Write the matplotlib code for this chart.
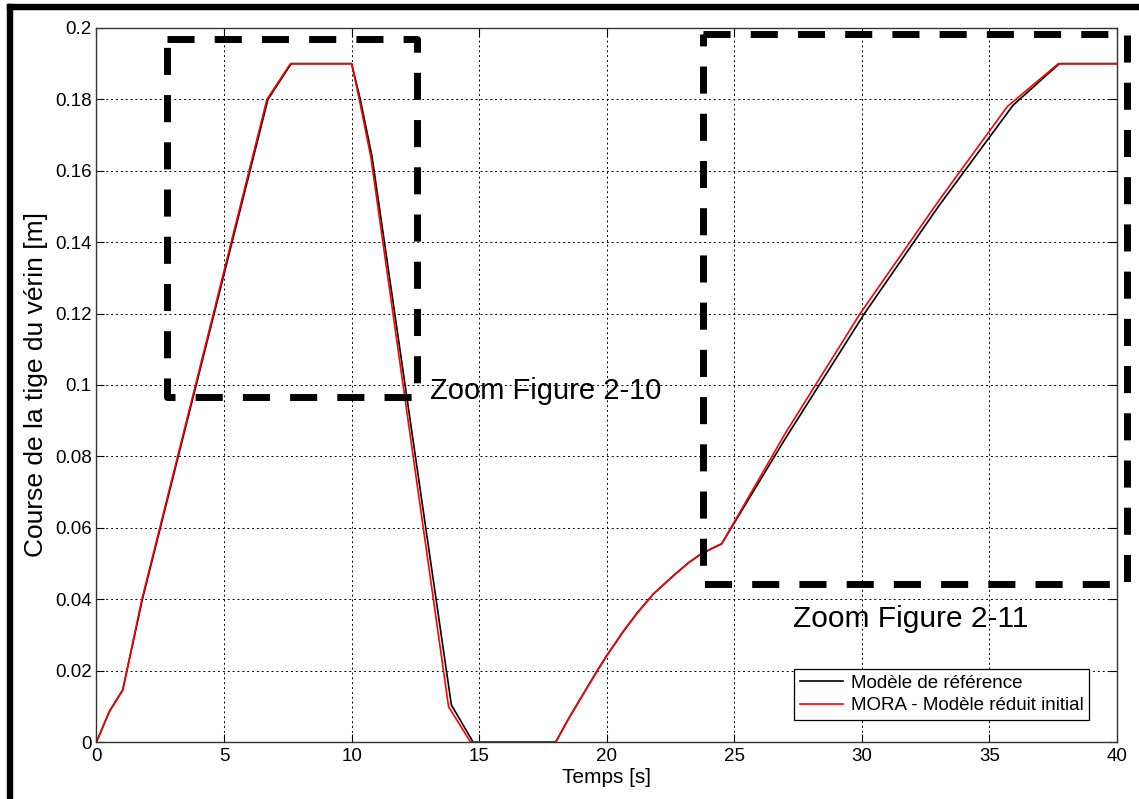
import matplotlib
matplotlib.use("Agg")
import matplotlib.pyplot as plt
from matplotlib.patches import Rectangle

plt.rcParams['font.family'] = ['Liberation Sans', 'DejaVu Sans']

# ---- Data ----
# reference model (black)
t_ref = [0, 0.5, 1.03, 1.8, 6.72, 7.63, 10.0, 10.34, 10.8, 13.91, 14.76, 18.0,
         18.5, 19.0, 19.63, 20.0, 20.65, 21.2, 21.83, 22.6, 23.2, 23.7, 24.2, 24.5,
         27.0, 30.1, 33.0, 35.93, 37.74, 40.0]
y_ref = [0, 0.0085, 0.0146, 0.04, 0.18, 0.19, 0.19, 0.18, 0.164, 0.0104, 0, 0,
         0.0065, 0.0125, 0.02, 0.0242, 0.031, 0.0362, 0.0415, 0.0465, 0.0502, 0.0527, 0.0545, 0.0555,
         0.085, 0.12, 0.150, 0.1784, 0.19, 0.19]

# MORA - reduced model (red)
t_mora = [0, 0.5, 1.03, 1.78, 6.68, 7.6, 10.0, 10.3, 10.75, 13.8, 14.66, 18.0,
          18.5, 19.0, 19.63, 20.0, 20.65, 21.2, 21.83, 22.6, 23.2, 23.7, 24.2, 24.5,
          27.0, 29.93, 33.0, 35.7, 37.7, 40.0]
y_mora = [0, 0.0085, 0.0146, 0.04, 0.18, 0.19, 0.19, 0.18, 0.164, 0.0099, 0, 0,
          0.0065, 0.0125, 0.02, 0.0242, 0.031, 0.0362, 0.0415, 0.0465, 0.0502, 0.0527, 0.0545, 0.0555,
          0.0865, 0.12, 0.1515, 0.178, 0.19, 0.19]

# zoom boxes: (t_left, t_right, y_bottom, y_top)
box1 = (2.75, 12.55, 0.0967, 0.1969)
box2 = (23.79, 40.38, 0.0444, 0.1982)

xticks = [0, 5, 10, 15, 20, 25, 30, 35, 40]
yticks = [0, 0.02, 0.04, 0.06, 0.08, 0.1, 0.12, 0.14, 0.16, 0.18, 0.2]
ytick_labels = ['0', '0.02', '0.04', '0.06', '0.08', '0.1', '0.12', '0.14', '0.16', '0.18', '0.2']

# ---- Figure ----
fig = plt.figure(figsize=(11.39, 7.99), dpi=100)
ax = fig.add_axes([0.0847, 0.0713, 0.8960, 0.8937])

ax.plot(t_ref, y_ref, color='black', lw=1.2, label='Modèle de référence')
ax.plot(t_mora, y_mora, color='red', lw=1.2, label='MORA - Modèle réduit initial')

# dashed zoom boxes (go a bit outside the axes)
for b in [box1, box2]:
    xs = [b[0], b[1], b[1], b[0], b[0]]
    ys = [b[3], b[3], b[2], b[2], b[3]]
    ax.plot(xs, ys, color='black', lw=5, linestyle=(0, (3.9, 2.9)),
            clip_on=False, solid_capstyle='butt', zorder=5)

ax.text(13.07, 0.096, 'Zoom Figure 2-10', fontsize=21, va='baseline', ha='left')
ax.text(27.31, 0.0321, 'Zoom Figure 2-11', fontsize=21.5, va='baseline', ha='left')

ax.set_xlim(0, 40)
ax.set_ylim(0, 0.2)
ax.set_xticks(xticks)
ax.set_yticks(yticks)
ax.set_yticklabels(ytick_labels)
ax.tick_params(direction='in', top=True, right=True, labelsize=13.5, length=6, width=0.8)
ax.tick_params(axis='y', pad=3.5)
ax.tick_params(axis='x', pad=4)
ax.grid(True, color='black', linestyle=(0, (2, 3)), lw=0.7)
for s in ax.spines.values():
    s.set_linewidth(1.0)
    s.set_color('#333333')

ax.set_xlabel('Temps [s]', fontsize=15)
ax.set_ylabel('Course de la tige du vérin [m]', fontsize=19)
ax.yaxis.set_label_coords(-0.0475, 0.5)
ax.xaxis.set_label_coords(0.5, -0.036)

leg = ax.legend(loc='lower right', bbox_to_anchor=(0.9726, 0.0308), fontsize=13.5,
                fancybox=False, framealpha=1, edgecolor='black', handlelength=2.3,
                borderpad=0.3, labelspacing=0.3, handletextpad=0.4, borderaxespad=0)
leg.get_frame().set_linewidth(0.9)

# thick black frame on the top and left of the picture
fig.add_artist(Rectangle((7.3 / 1139, 0), 5 / 1139, 1 - 4.3 / 799,
                         transform=fig.transFigure, color='black'))
fig.add_artist(Rectangle((7.3 / 1139, 1 - 9 / 799), 1, 4.7 / 799,
                         transform=fig.transFigure, color='black'))

fig.savefig('out.png', dpi=100)
